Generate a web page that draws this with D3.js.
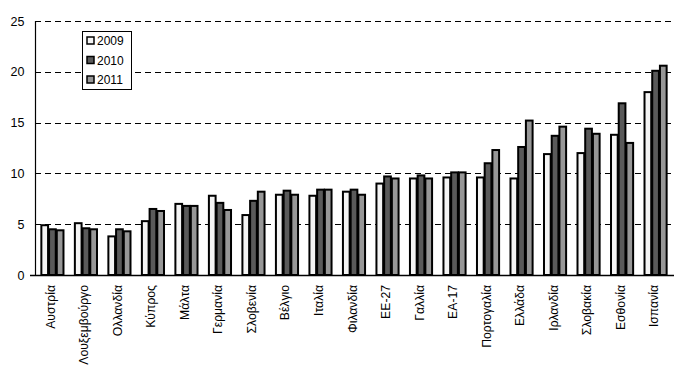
<!DOCTYPE html>
<html><head><meta charset="utf-8">
<script src="https://cdn.jsdelivr.net/npm/d3@7"></script>
<style>body{margin:0;background:#fff;}svg{display:block;}</style>
</head><body>
<svg id="c" width="674" height="372"></svg>
<script>
const categories = ["Αυστρία","Λουξεμβούργο","Ολλανδία","Κύπρος","Μάλτα","Γερμανία","Σλοβενία","Βέλγιο","Ιταλία","Φιλανδία","ΕΕ-27","Γαλλία","ΕΑ-17","Πορτογαλία","Ελλάδα","Ιρλανδία","Σλοβακία","Εσθονία","Ισπανία"];
const seriesNames = ["2009","2010","2011"];
const v2009 = [4.9,5.1,3.8,5.3,7.0,7.8,5.9,7.9,7.8,8.2,9.0,9.5,9.6,9.6,9.5,11.9,12.0,13.8,18.0];
const v2010 = [4.5,4.6,4.5,6.5,6.8,7.1,7.3,8.3,8.4,8.4,9.7,9.8,10.1,11.0,12.6,13.7,14.4,16.9,20.1];
const v2011 = [4.4,4.5,4.3,6.3,6.8,6.4,8.2,7.9,8.4,7.9,9.5,9.5,10.1,12.3,15.2,14.6,13.9,13.0,20.6];
const yTicks = [0,5,10,15,20,25];
const colors = ["#f4f4f4","#5a5a5a","#979797"];
const series = [v2009,v2010,v2011];

(function(){
const svg = d3.select("#c");
const mL = 35, mR = 672, mT = 21, mB = 275;
const x = d3.scaleBand().domain(categories).range([mL, mR]).paddingInner(0.31).paddingOuter(0.16);
const xs = d3.scaleBand().domain(seriesNames).range([0, x.bandwidth()]);
const y = d3.scaleLinear().domain([0,25]).range([mB, mT]);

svg.append("g").selectAll("line").data(yTicks.filter(d=>d>0)).join("line")
  .attr("x1", mL).attr("x2", mR)
  .attr("y1", d=>Math.round(y(d))+0.5).attr("y2", d=>Math.round(y(d))+0.5)
  .attr("stroke","#000").attr("stroke-width",1).attr("stroke-dasharray","6,4");

const yAxis = d3.axisLeft(y).tickValues(yTicks).tickSize(0).tickPadding(11);
const ga = svg.append("g").attr("transform",`translate(${mL+0.5},0)`).call(yAxis);
ga.select(".domain").remove();
ga.selectAll("text").attr("font-family","Liberation Sans, Arial, sans-serif").attr("font-size","12.5px").attr("fill","#000");
svg.append("line").attr("x1",mL+0.5).attr("x2",mL+0.5).attr("y1",mT).attr("y2",mB).attr("stroke","#000").attr("stroke-width",1.2);

const groups = svg.append("g").selectAll("g").data(categories).join("g")
  .attr("transform", c=>`translate(${x(c)},0)`);
groups.selectAll("rect").data((c,i)=>series.map((s,j)=>({k:seriesNames[j], v:s[i], j})))
  .join("rect")
  .attr("x", d=>xs(d.k)+1).attr("width", xs.bandwidth()-1)
  .attr("y", d=>y(d.v)).attr("height", d=>mB - y(d.v))
  .attr("fill", d=>colors[d.j]).attr("stroke","#000").attr("stroke-width",2);

svg.append("line").attr("x1",mL-5).attr("x2",674).attr("y1",mB+0.5).attr("y2",mB+0.5).attr("stroke","#000").attr("stroke-width",1.5);

svg.append("g").selectAll("text").data(categories).join("text")
  .attr("transform", c=>`translate(${x(c)+x.bandwidth()/2+3},${mB+10}) rotate(-90)`)
  .attr("text-anchor","end")
  .attr("font-family","Liberation Sans, Arial, sans-serif").attr("font-size","12.2px")
  .text(c=>c);

const lg = svg.append("g").attr("transform","translate(82,31)");
lg.append("rect").attr("x",0.5).attr("y",0.5).attr("width",49).attr("height",58).attr("fill","#fff").attr("stroke","#000");
seriesNames.forEach((n,i)=>{
  const yy = 10 + i*19.5;
  lg.append("rect").attr("x",5).attr("y",yy-4).attr("width",7).attr("height",7).attr("fill",colors[i]).attr("stroke","#000").attr("stroke-width",1.5);
  lg.append("text").attr("x",15).attr("y",yy+4).attr("font-family","Liberation Sans, Arial, sans-serif").attr("font-size","12px").text(n);
});
})();
</script>
</body></html>
